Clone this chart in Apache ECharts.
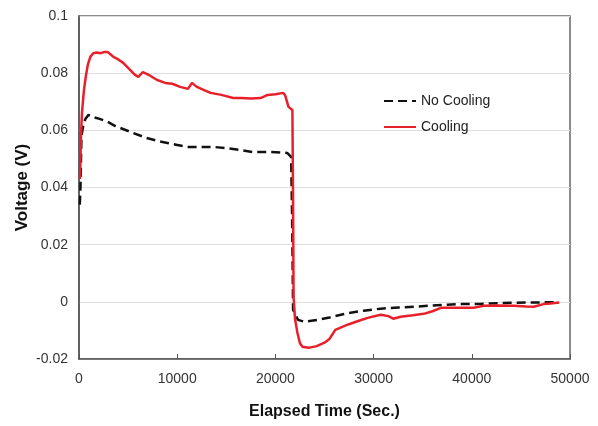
<!DOCTYPE html>
<html>
<head>
<meta charset="utf-8">
<script src="https://cdn.jsdelivr.net/npm/echarts@6/dist/echarts.min.js"></script>
<style>
  html, body { margin: 0; padding: 0; background: #fff; }
  #chart { width: 598px; height: 426px; }
</style>
</head>
<body>
<div id="chart"></div>
<script>
// elapsed time (s) and voltage (V)
const noCoolTime = [80, 150, 250, 450, 650, 950, 1400, 2100, 2900, 3700, 4600, 5500, 6900, 8000, 9000, 10000, 11000, 12500, 13700, 15700, 17700, 19500, 21200, 21600, 21700, 21800, 22300, 23000, 24300, 25500, 27300, 29000, 30700, 32500, 34100, 36000, 37500, 39000, 41000, 43000, 44300, 46000, 47000, 48500];
const noCoolVolt = [0.034, 0.040, 0.058, 0.062, 0.064, 0.0654, 0.0647, 0.064, 0.063, 0.0615, 0.0603, 0.0591, 0.0573, 0.0563, 0.0556, 0.0549, 0.0542, 0.0542, 0.0542, 0.0535, 0.0524, 0.0524, 0.0521, 0.0507, 0.030, -0.0028, -0.0063, -0.0070, -0.0063, -0.0055, -0.0040, -0.0031, -0.0024, -0.0020, -0.0017, -0.0013, -0.0010, -0.0008, -0.0007, -0.0004, -0.0003, -0.0002, -0.0002, -0.0001];

const coolTime = [100, 200, 300, 500, 700, 900, 1150, 1450, 1800, 2200, 2600, 2900, 3200, 3500, 4000, 4500, 5100, 5700, 6050, 6500, 7200, 7960, 8780, 9500, 10300, 11100, 11500, 12000, 12800, 13400, 14500, 15700, 16500, 17500, 18500, 19200, 20000, 20800, 21000, 21330, 21730, 21800, 21850, 22000, 22240, 22500, 22750, 23370, 24200, 25000, 25500, 26100, 27350, 28500, 29400, 30700, 31500, 32000, 32750, 34000, 35100, 36000, 36850, 38500, 40200, 41200, 42500, 44300, 45500, 46300, 47300, 48000, 48900];
const coolVolt = [0.043, 0.058, 0.066, 0.074, 0.079, 0.083, 0.0857, 0.087, 0.0872, 0.087, 0.0874, 0.0874, 0.0866, 0.0857, 0.0848, 0.0836, 0.0815, 0.0794, 0.0787, 0.0804, 0.0792, 0.0776, 0.0766, 0.0763, 0.0752, 0.0745, 0.0766, 0.0752, 0.074, 0.0731, 0.0724, 0.0713, 0.0713, 0.0711, 0.0713, 0.0724, 0.0726, 0.0731, 0.0722, 0.0682, 0.0671, 0.035, 0.0017, -0.006, -0.0108, -0.0145, -0.0157, -0.0161, -0.0155, -0.0143, -0.013, -0.0098, -0.008, -0.0066, -0.0056, -0.0045, -0.005, -0.0059, -0.0052, -0.0047, -0.0042, -0.0033, -0.0021, -0.0021, -0.0021, -0.0014, -0.0013, -0.0014, -0.0016, -0.0017, -0.0008, -0.0006, -0.0002];

const seriesNames = ['No Cooling', 'Cooling'];

const zip = (xs, ys) => xs.map((x, i) => [x, ys[i]]);

const chart = echarts.init(document.getElementById('chart'));
const font = 'Liberation Sans, Arial, sans-serif';

chart.setOption({
  animation: false,
  grid: {
    left: 79, right: 28, top: 16, bottom: 67,
    show: true, borderColor: '#666', borderWidth: 1.5
  },
  legend: {
    orient: 'vertical',
    left: 378, top: 89,
    itemWidth: 32, itemHeight: 14, itemGap: 12,
    itemStyle: { opacity: 0, borderWidth: 0 },
    textStyle: { fontFamily: font, fontSize: 14, color: '#222' },
    data: seriesNames
  },
  xAxis: {
    type: 'value',
    min: 0, max: 50000, interval: 10000,
    name: 'Elapsed Time (Sec.)',
    nameLocation: 'middle', nameGap: 45,
    nameTextStyle: { fontFamily: font, fontSize: 16, fontWeight: 'bold', color: '#111' },
    axisLine: { onZero: false, lineStyle: { color: '#555', width: 1.5 } },
    axisTick: { inside: true, length: 5, lineStyle: { color: '#555' } },
    axisLabel: { fontFamily: font, fontSize: 14, color: '#333', margin: 13, formatter: v => String(v) },
    splitLine: { show: false }
  },
  yAxis: {
    type: 'value',
    min: -0.02, max: 0.1, interval: 0.02,
    name: 'Voltage (V)',
    nameLocation: 'middle', nameGap: 48,
    nameMoveOverlap: false,
    nameTextStyle: { fontFamily: font, fontSize: 17, fontWeight: 'bold', color: '#111' },
    axisLine: { show: true, lineStyle: { color: '#555', width: 1.5 } },
    axisTick: { show: false },
    axisLabel: {
      fontFamily: font, fontSize: 14, color: '#333', margin: 11,
      formatter: v => String(+v.toFixed(2))
    },
    splitLine: { lineStyle: { color: '#ddd', width: 1 } }
  },
  series: [
    {
      name: seriesNames[0],
      type: 'line',
      data: zip(noCoolTime, noCoolVolt),
      symbol: 'none',
      lineStyle: { color: '#111', width: 2.5, type: [9, 5] },
      itemStyle: { color: '#111' }
    },
    {
      name: seriesNames[1],
      type: 'line',
      data: zip(coolTime, coolVolt),
      symbol: 'none',
      lineStyle: { color: '#e8202a', width: 2.5 },
      itemStyle: { color: '#e8202a' }
    }
  ]
});
</script>
</body>
</html>
